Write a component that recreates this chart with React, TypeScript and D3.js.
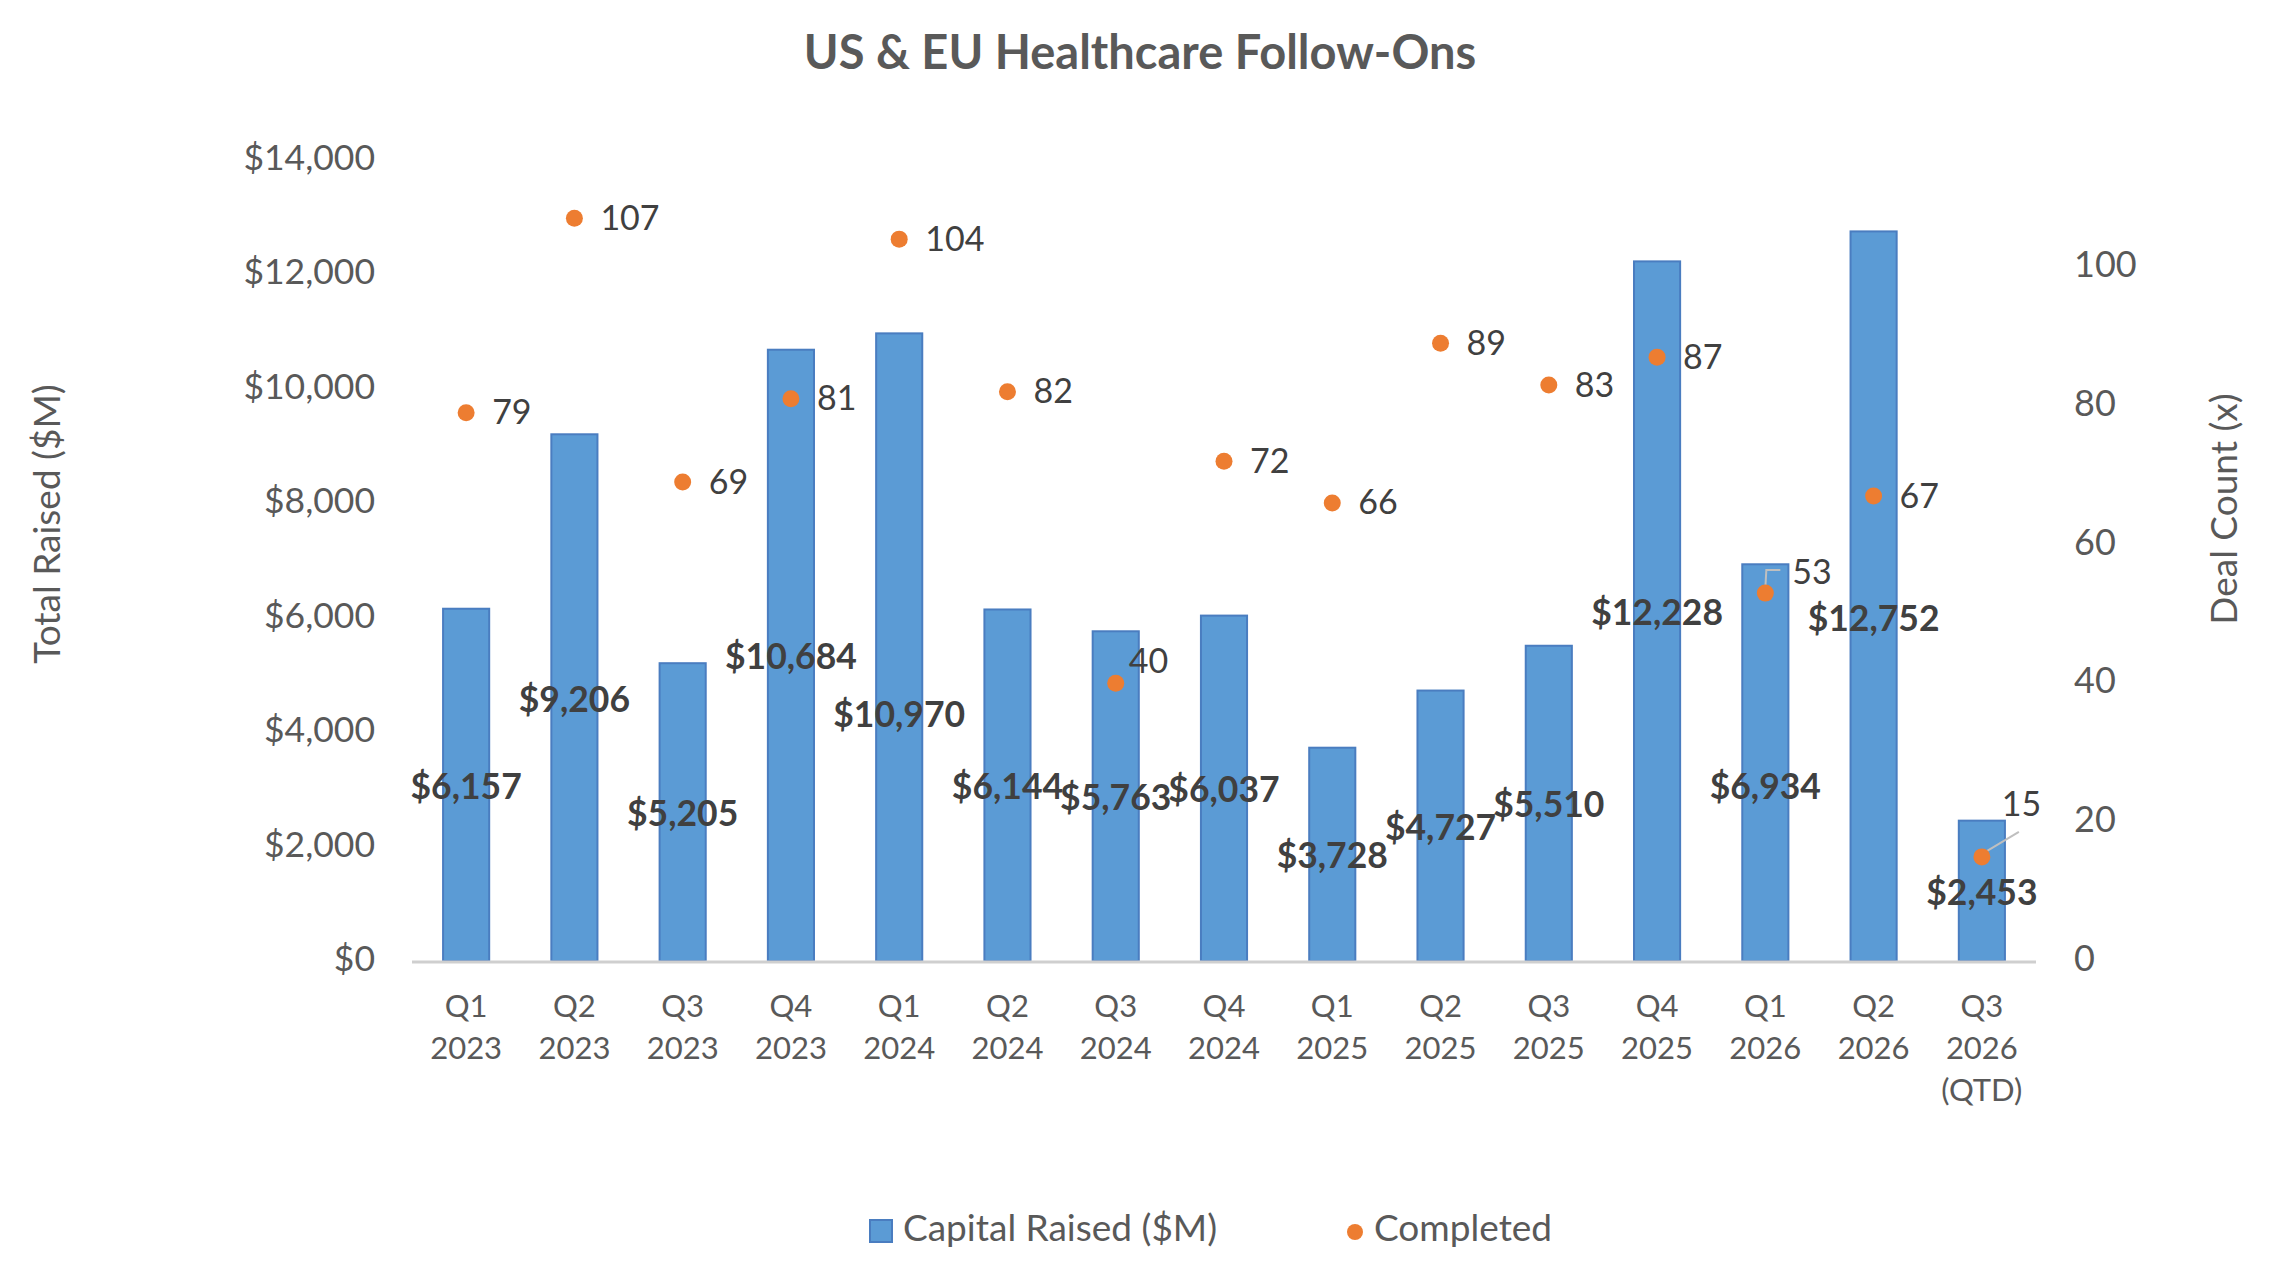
import React, { useEffect } from "react";
import * as d3 from "d3";

const categories = [
  "Q1 2023", "Q2 2023", "Q3 2023", "Q4 2023",
  "Q1 2024", "Q2 2024", "Q3 2024", "Q4 2024",
  "Q1 2025", "Q2 2025", "Q3 2025", "Q4 2025",
  "Q1 2026", "Q2 2026", "Q3 2026 (QTD)",
];
const capitalRaised = [6157, 9206, 5205, 10684, 10970, 6144, 5763, 6037, 3728, 4727, 5510, 12228, 6934, 12752, 2453];
const completed = [79, 107, 69, 81, 104, 82, 40, 72, 66, 89, 83, 87, 53, 67, 15];
const leftTicks = [0, 2000, 4000, 6000, 8000, 10000, 12000, 14000];
const rightTicks = [0, 20, 40, 60, 80, 100];

const W = 2270;
const H = 1272;
const FONT = "Lato, 'Open Sans', sans-serif";
const BLUE = "#5B9BD5";
const BLUE_EDGE = "#4A7DC0";
const ORANGE = "#ED7D31";
const GRAY = "#595959";
const DARK = "#404040";

// manual label placement tweaks (as in the original chart)
const barLabelNudge: Record<number, number> = { 4: 66, 12: 22, 13: 21 };
const dotLabelOffset: Record<number, { dx: number; dy: number }> = {
  6: { dx: 13, dy: -22 },
  12: { dx: 27, dy: -21 },
  14: { dx: 20, dy: -52 },
};

export default function App() {
  useEffect(() => {
    document.body.style.margin = "0";
  }, []);

  const plot = { left: 412, right: 2036, top: 160, bottom: 961 };
  const x = d3
    .scaleBand<string>()
    .domain(categories)
    .range([plot.left, plot.right])
    .paddingInner(0.574)
    .paddingOuter(0.287);
  const y = d3.scaleLinear().domain([0, 14000]).range([plot.bottom, plot.top]);
  const y2 = d3.scaleLinear().domain([0, 115.4]).range([plot.bottom, plot.top]);
  const fmt = (v: number) => "$" + d3.format(",")(v);
  const cx = (c: string) => (x(c) as number) + x.bandwidth() / 2;

  return (
    <svg width={W} height={H} style={{ position: "absolute", left: 0, top: 0, background: "#fff" }} fontFamily={FONT}>
      <rect x={0} y={0} width={W} height={H} fill="#fff" />
      <text x={1140} y={57} textAnchor="middle" dominantBaseline="middle" fontSize={47} fontWeight={700} fill={GRAY}>
        US &amp; EU Healthcare Follow-Ons
      </text>

      {/* left ticks */}
      {leftTicks.map((t) => (
        <text key={"l" + t} x={375} y={y(t) + 1} textAnchor="end" dominantBaseline="middle" fontSize={35.5} fill={GRAY}>
          {fmt(t)}
        </text>
      ))}
      {/* right ticks */}
      {rightTicks.map((t) => (
        <text key={"r" + t} x={2074} y={y2(t) + 1} textAnchor="start" dominantBaseline="middle" fontSize={36} fill={GRAY}>
          {t}
        </text>
      ))}

      {/* axis titles */}
      <text transform={`translate(51,524) rotate(-90)`} textAnchor="middle" dominantBaseline="middle" fontSize={37} fill={GRAY}>
        Total Raised ($M)
      </text>
      <text transform={`translate(2228,509) rotate(-90)`} textAnchor="middle" dominantBaseline="middle" fontSize={37} fill={GRAY}>
        Deal Count (x)
      </text>

      {/* bars */}
      {categories.map((c, i) => (
        <rect
          key={"b" + c}
          x={x(c)}
          y={y(capitalRaised[i])}
          width={x.bandwidth()}
          height={y(0) - y(capitalRaised[i])}
          fill={BLUE}
          stroke={BLUE_EDGE}
          strokeWidth={2}
        />
      ))}

      {/* axis line */}
      <line x1={plot.left} x2={plot.right} y1={plot.bottom + 1} y2={plot.bottom + 1} stroke="#CFCFCF" strokeWidth={3} />

      {/* category labels */}
      {categories.map((c) => {
        const parts = c.split(" ");
        return (
          <text key={"c" + c} x={cx(c)} textAnchor="middle" fontSize={31} fill={GRAY}>
            {parts.map((p, k) => (
              <tspan key={k} x={cx(c)} y={1009 + k * 42} dominantBaseline="middle">
                {p}
              </tspan>
            ))}
          </text>
        );
      })}

      {/* bar value labels */}
      {categories.map((c, i) => (
        <text
          key={"v" + c}
          x={cx(c)}
          y={(y(0) + y(capitalRaised[i])) / 2 + 5 + (barLabelNudge[i] || 0)}
          textAnchor="middle"
          dominantBaseline="middle"
          fontSize={35.5}
          fontWeight={700}
          fill={DARK}
        >
          {fmt(capitalRaised[i])}
        </text>
      ))}

      {/* leader lines */}
      {(() => {
        const c12 = categories[12];
        const c14 = categories[14];
        const d12 = { x: cx(c12), y: y2(completed[12]) };
        const d14 = { x: cx(c14), y: y2(completed[14]) };
        return (
          <g stroke="#BFBFBF" strokeWidth={2} fill="none">
            <polyline points={`${d12.x},${d12.y - 5} ${d12.x + 1},${d12.y - 23} ${d12.x + 15},${d12.y - 23}`} />
            <polyline points={`${d14.x + 2},${d14.y - 4} ${d14.x + 37},${d14.y - 25}`} />
          </g>
        );
      })()}

      {/* dots */}
      {categories.map((c, i) => (
        <circle key={"d" + c} cx={cx(c)} cy={y2(completed[i])} r={8.5} fill={ORANGE} />
      ))}
      {categories.map((c, i) => {
        const o = dotLabelOffset[i] || { dx: 26, dy: 0 };
        return (
          <text
            key={"dl" + c}
            x={cx(c) + o.dx}
            y={y2(completed[i]) + o.dy + 3}
            textAnchor="start"
            dominantBaseline="middle"
            fontSize={34}
            fill={DARK}
          >
            {completed[i]}
          </text>
        );
      })}

      {/* legend */}
      <rect x={870} y={1220} width={22} height={22} fill={BLUE} stroke={BLUE_EDGE} strokeWidth={2} />
      <text x={903} y={1232} dominantBaseline="middle" fontSize={37} fill={GRAY}>
        Capital Raised ($M)
      </text>
      <circle cx={1355} cy={1232} r={8} fill={ORANGE} />
      <text x={1374} y={1232} dominantBaseline="middle" fontSize={37} fill={GRAY}>
        Completed
      </text>
    </svg>
  );
}
